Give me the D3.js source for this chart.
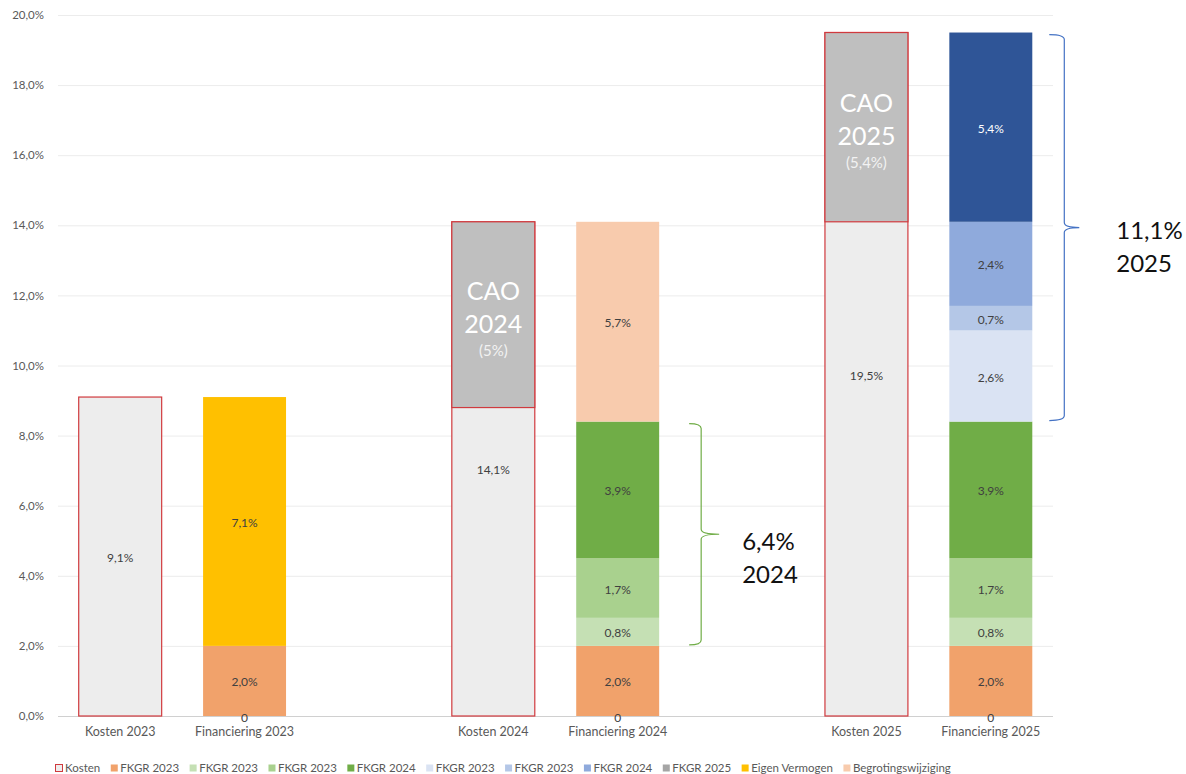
<!doctype html>
<html lang="nl">
<head>
<meta charset="utf-8">
<script src="https://d3js.org/d3.v7.min.js"></script>
<style>
  body { margin: 0; background: #fff; }
  svg { font-family: Lato, "Open Sans", sans-serif; display: block; }
</style>
</head>
<body>
<svg id="chart" width="1186" height="774"></svg>
<script>
// categories on the x axis (two empty slots keep the years apart)
var categories = ["Kosten 2023", "Financiering 2023", "gap1", "Kosten 2024", "Financiering 2024", "gap2", "Kosten 2025", "Financiering 2025"];

// series in stacking order, values in % per category
var seriesNames = ["Kosten", "FKGR 2023", "FKGR 2023", "FKGR 2023", "FKGR 2024", "FKGR 2023", "FKGR 2023", "FKGR 2024", "FKGR 2025", "Eigen Vermogen", "Begrotingswijziging"];
var kosten        = [9.1, 0, null, 14.1, 0, null, 19.5, 0];
var fkgr2023a     = [null, 2.0, null, null, 2.0, null, null, 2.0];
var fkgr2023b     = [null, null, null, null, 0.8, null, null, 0.8];
var fkgr2023c     = [null, null, null, null, 1.7, null, null, 1.7];
var fkgr2024a     = [null, null, null, null, 3.9, null, null, 3.9];
var fkgr2023d     = [null, null, null, null, null, null, null, 2.6];
var fkgr2023e     = [null, null, null, null, null, null, null, 0.7];
var fkgr2024b     = [null, null, null, null, null, null, null, 2.4];
var fkgr2025      = [null, null, null, null, null, null, null, 5.4];
var eigenVermogen = [null, 7.1, null, null, null, null, null, null];
var begroting     = [null, null, null, null, 5.7, null, null, null];
var seriesValues = [kosten, fkgr2023a, fkgr2023b, fkgr2023c, fkgr2024a, fkgr2023d, fkgr2023e, fkgr2024b, fkgr2025, eigenVermogen, begroting];

// CAO boxes on top of the Kosten bars
var caoCats   = ["Kosten 2024", "Kosten 2025"];
var caoFrom   = [8.8, 14.1];
var caoTo     = [14.1, 19.5];
var caoYear   = ["2024", "2025"];
var caoPct    = ["(5%)", "(5,4%)"];

// braces next to the financing bars
var braceCats = ["Financiering 2024", "Financiering 2025"];
var braceFrom = [2.0, 8.4];
var braceTo   = [8.4, 19.5];
var braceText = [["6,4%", "2024"], ["11,1%", "2025"]];

var yTicks = [0, 2, 4, 6, 8, 10, 12, 14, 16, 18, 20];

// styling
var colors = ["#ededed", "#f1a26b", "#c5e0b4", "#a9d18e", "#70ad47", "#dae3f3", "#b4c7e7", "#8faadc", "#a5a5a5", "#ffc000", "#f8cbad"];
var barColors = colors.slice();
barColors[8] = "#2f5597"; // FKGR 2025 bar is recoloured dark blue
var braceColors = ["#70ad47", "#4472c4"];
var red = "#d03a3e";
var textCol = "#595959";

var svg = d3.select("#chart");
var x = d3.scaleBand().domain(categories).range([58, 1053]).paddingInner(0.333).paddingOuter(0.1665);
var y = d3.scaleLinear().domain([0, 20]).range([716, 15]);

var nl = d3.formatLocale({decimal: ",", thousands: ".", grouping: [3], currency: ["€", ""]});
var pct1 = nl.format(".1f");

// gridlines
svg.append("g").selectAll("line").data(yTicks).enter().append("line")
  .attr("x1", 58).attr("x2", 1053)
  .attr("y1", function(d) { return y(d) + 0.5; }).attr("y2", function(d) { return y(d) + 0.5; })
  .attr("stroke", function(d) { return d === 0 ? "#d0d0d0" : "#ececec"; })
  .attr("stroke-width", 1);

// y axis labels
var yAxis = svg.append("g").attr("transform", "translate(50,0)")
  .call(d3.axisLeft(y).tickValues(yTicks).tickSize(0).tickPadding(6).tickFormat(function(d) { return pct1(d) + "%"; }));
yAxis.select(".domain").remove();
yAxis.selectAll("text").attr("fill", textCol).style("font-size", "11.5px").style("font-family", "Lato, sans-serif");

// x axis labels
var xAxis = svg.append("g").attr("transform", "translate(0," + y(0) + ")")
  .call(d3.axisBottom(x).tickSize(0).tickPadding(11).tickFormat(function(d) { return d.indexOf("gap") === 0 ? "" : d; }));
xAxis.select(".domain").remove();
xAxis.selectAll("text").attr("fill", textCol).style("font-size", "12.5px").style("font-family", "Lato, sans-serif");

// stack the series
var rows = categories.map(function(c, i) {
  var r = {cat: c};
  seriesValues.forEach(function(s, k) { r["s" + k] = s[i] || 0; });
  return r;
});
var keys = seriesValues.map(function(s, k) { return "s" + k; });
var stacked = d3.stack().keys(keys)(rows);

var layers = svg.append("g").selectAll("g").data(stacked).enter().append("g")
  .attr("fill", function(d, k) { return barColors[k]; });

layers.selectAll("rect").data(function(d) { return d.filter(function(p) { return p[1] > p[0]; }); })
  .enter().append("rect")
  .attr("x", function(p) { return x(p.data.cat); })
  .attr("width", x.bandwidth())
  .attr("y", function(p) { return y(p[1]); })
  .attr("height", function(p) { return y(p[0]) - y(p[1]); })
  .attr("stroke", function() { return this.parentNode.__data__.index === 0 ? red : "none"; })
  .attr("stroke-width", 1.2);

// CAO overlays
var cao = svg.append("g").selectAll("g").data(caoCats).enter().append("g");
cao.append("rect")
  .attr("x", function(d) { return x(d); })
  .attr("width", x.bandwidth())
  .attr("y", function(d, i) { return y(caoTo[i]); })
  .attr("height", function(d, i) { return y(caoFrom[i]) - y(caoTo[i]); })
  .attr("fill", "#bfbfbf").attr("stroke", red).attr("stroke-width", 1.2);
cao.append("text")
  .attr("x", function(d) { return x(d) + x.bandwidth() / 2; })
  .attr("y", function(d, i) { return (y(caoTo[i]) + y(caoFrom[i])) / 2 - 25; })
  .attr("text-anchor", "middle").attr("dominant-baseline", "central")
  .attr("fill", "#fff").style("font-size", "25px").text("CAO");
cao.append("text")
  .attr("x", function(d) { return x(d) + x.bandwidth() / 2; })
  .attr("y", function(d, i) { return (y(caoTo[i]) + y(caoFrom[i])) / 2 + 8; })
  .attr("text-anchor", "middle").attr("dominant-baseline", "central")
  .attr("fill", "#fff").style("font-size", "25px").text(function(d, i) { return caoYear[i]; });
cao.append("text")
  .attr("x", function(d) { return x(d) + x.bandwidth() / 2; })
  .attr("y", function(d, i) { return (y(caoTo[i]) + y(caoFrom[i])) / 2 + 35; })
  .attr("text-anchor", "middle").attr("dominant-baseline", "central")
  .attr("fill", "#f2f2f2").style("font-size", "15px").text(function(d, i) { return caoPct[i]; });

// value labels
var labels = svg.append("g");
stacked.forEach(function(layer, k) {
  layer.forEach(function(p, i) {
    if (seriesValues[k][i] === null || seriesValues[k][i] === undefined) return;
    var v = seriesValues[k][i];
    labels.append("text")
      .attr("x", x(p.data.cat) + x.bandwidth() / 2)
      .attr("y", (y(p[0]) + y(p[1])) / 2 + 1)
      .attr("text-anchor", "middle").attr("dominant-baseline", "central")
      .attr("fill", k === 8 ? "#fff" : "#404040")
      .style("font-size", "12px")
      .text(v === 0 ? "0" : pct1(v) + "%");
  });
});

// braces
function bracePath(x0, xv, xp, yTop, yBot) {
  var ym = (yTop + yBot) / 2, r = 5;
  return "M" + x0 + "," + yTop +
    " Q" + xv + "," + yTop + " " + xv + "," + (yTop + r) +
    " L" + xv + "," + (ym - r) +
    " Q" + xv + "," + ym + " " + xp + "," + ym +
    " Q" + xv + "," + ym + " " + xv + "," + (ym + r) +
    " L" + xv + "," + (yBot - r) +
    " Q" + xv + "," + yBot + " " + x0 + "," + yBot;
}
var braceOff = [[30, 42, 60, 83, 16], [17, 32, 47, 84, 11]];
braceCats.forEach(function(c, i) {
  var right = x(c) + x.bandwidth();
  var o = braceOff[i];
  var yTop = y(braceTo[i]) + 2, yBot = y(braceFrom[i]) - 1;
  svg.append("path")
    .attr("d", bracePath(right + o[0], right + o[1], right + o[2], yTop, yBot))
    .attr("fill", "none").attr("stroke", braceColors[i]).attr("stroke-width", 1.2);
  var ym = (yTop + yBot) / 2;
  braceText[i].forEach(function(t, j) {
    svg.append("text")
      .attr("x", right + o[3]).attr("y", ym + o[4] + j * 33)
      .attr("fill", "#111").style("font-size", "24px").text(t);
  });
});

// legend
var legend = svg.append("g");
var lx = 55;
seriesNames.forEach(function(name, k) {
  legend.append("rect").attr("x", lx + 0.5).attr("y", 764.5).attr("width", 7).attr("height", 7)
    .attr("fill", colors[k]).attr("stroke", k === 0 ? red : "none");
  var t = legend.append("text").attr("x", lx + 10).attr("y", 772)
    .attr("fill", textCol).style("font-size", "11.5px").text(name);
  lx += 10 + t.node().getComputedTextLength() + 10;
});
</script>
</body>
</html>
